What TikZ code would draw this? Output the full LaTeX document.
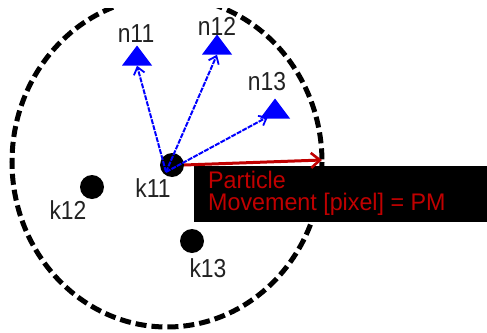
\documentclass[tikz,border=0pt]{standalone}
\usepackage{fontspec}
\setmainfont{Liberation Sans}
\newfontfamily\lblfont[FakeStretch=0.88]{Liberation Sans}
\newfontfamily\boxfont[FakeStretch=0.97]{Liberation Sans}
\usetikzlibrary{arrows.meta,shapes.geometric}
\definecolor{pmred}{HTML}{C00000}
\definecolor{lblgray}{HTML}{222222}
\tikzset{
  x=1pt, y=-1pt,
  particle/.style={circle, fill=black, inner sep=0pt, minimum size=24pt},
  target/.style={isosceles triangle, shape border rotate=90, isosceles triangle stretches, fill=blue, inner sep=0pt, minimum width=30pt, minimum height=20pt},
  lbl/.style={text=lblgray, font=\lblfont\fontsize{26}{26}\selectfont, inner sep=0pt},
  move/.style={blue, line width=2pt, dash pattern=on 5pt off 1.2pt, -{Straight Barb[length=7pt,width=11pt,line width=1.8pt]}},
  pm/.style={pmred, line width=3pt, -{Straight Barb[length=9pt,width=15pt,line width=2.6pt]}},
  region/.style={draw=black, line width=5pt, dash pattern=on 11pt off 5pt}
}
\begin{document}
\begin{tikzpicture}
\useasboundingbox (0,0) rectangle (487,332);
\fill[white] (0,0) rectangle (487,332);
\begin{scope}
\clip (0,8) rectangle (487,332);
\draw[region] (167,162) ellipse [x radius=155, y radius=165];
\end{scope}
% particles
\node[particle] (k11) at (172,165) {};
\node[particle] (k12) at (92,187) {};
\node[particle] (k13) at (192,241) {};
\coordinate (k11s) at (166,172);
% targets
\node[target] (n11) at (137,58) {};
\node[target] (n12) at (217,47) {};
\node[target] (n13) at (275,111) {};
% labels
\node[lbl] (k11l) at (153,188) {k11};
\node[lbl] (k12l) at (68,210) {k12};
\node[lbl] (k13l) at (208,268) {k13};
\node[lbl] (n11l) at (136,34) {n11};
\node[lbl] (n12l) at (217,26) {n12};
\node[lbl] (n13l) at (267,82) {n13};
% movement arrows
\draw[move] (k11s) -- (n11.south);
\draw[move] (k11s) -- (n12.south);
\draw[move] (k11s) -- ([xshift=-7pt,yshift=2pt]n13.south);
% box
\node[fill=black, anchor=north west, minimum width=293pt, minimum height=56pt, inner sep=0pt] (box) at (194,166) {};
\node[anchor=north west, text=pmred, align=left, inner sep=0pt, font=\boxfont\fontsize{24}{21.7}\selectfont] (txt) at (208,171) {Particle\\Movement [pixel] = PM};
\coordinate (pmend) at (322,160);
\draw[pm] (k11.east) -- (pmend);
\end{tikzpicture}
\end{document}
